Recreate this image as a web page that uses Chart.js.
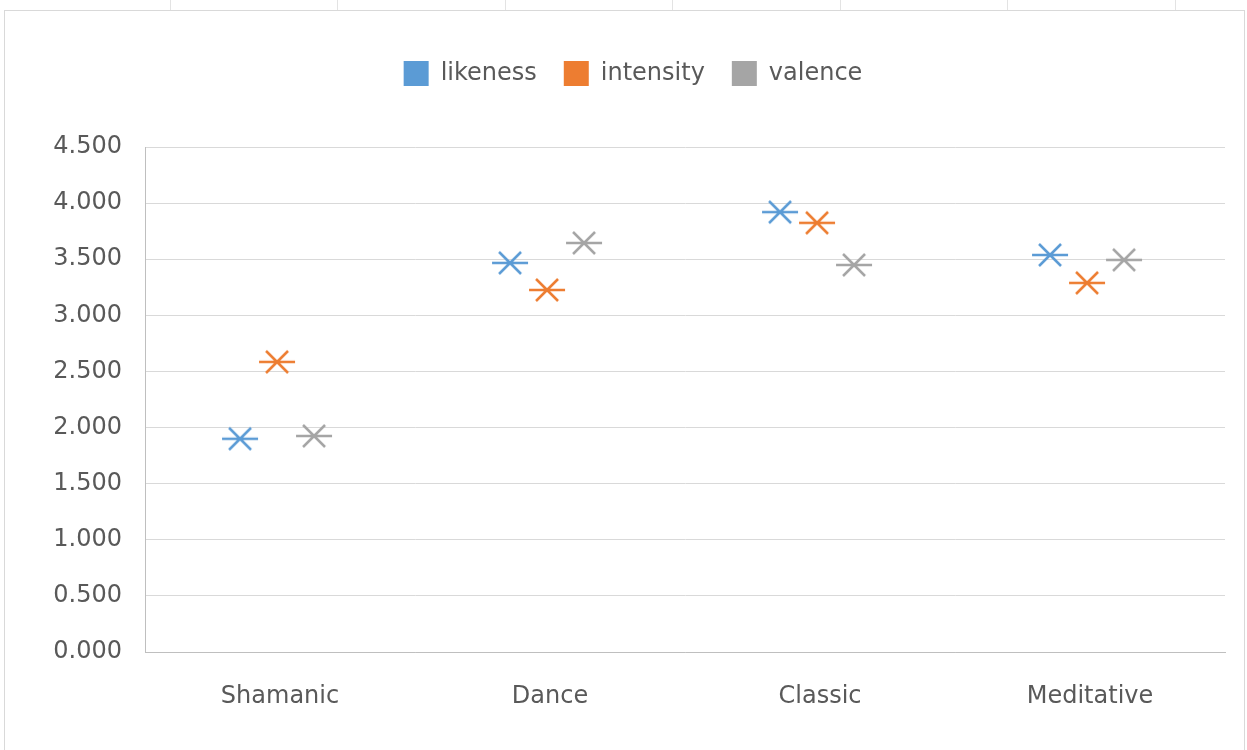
<!DOCTYPE html>
<html>
<head>
<meta charset="utf-8">
<script src="https://cdn.jsdelivr.net/npm/chart.js@4.4.0/dist/chart.umd.min.js"></script>
<style>
  body { margin: 0; background: #fff; }
  .frame { position: absolute; left: 4px; top: 10px; width: 1239px; height: 745px; border: 1px solid #d9d9d9; }
  .wrap { position: absolute; left: 0; top: 0; width: 1238px; height: 739px; }
  .cell { position: absolute; top: 0; width: 1px; height: 10px; background: #e3e3e3; }
</style>
</head>
<body>
<div class="cell" style="left:170px"></div>
<div class="cell" style="left:337px"></div>
<div class="cell" style="left:505px"></div>
<div class="cell" style="left:672px"></div>
<div class="cell" style="left:840px"></div>
<div class="cell" style="left:1007px"></div>
<div class="cell" style="left:1175px"></div>
<div class="frame"><div class="wrap"><canvas id="myChart"></canvas></div></div>
<script>
const categories = ['Shamanic', 'Dance', 'Classic', 'Meditative'];
const likeness  = [1.90, 3.467, 3.92, 3.538];
const intensity = [2.585, 3.226, 3.824, 3.289];
const valence   = [1.925, 3.645, 3.449, 3.494];
const yTicks = [0, 0.5, 1, 1.5, 2, 2.5, 3, 3.5, 4, 4.5];

// position of each series inside its category (clustered like Excel)
const seriesOffset = [-0.148, -0.011, 0.126];
const colors = ['#5B9BD5', '#ED7D31', '#A5A5A5'];

Chart.defaults.font.family = '"DejaVu Sans", "Open Sans", sans-serif';
Chart.defaults.font.size = 24;
Chart.defaults.color = '#595959';

// excel "star" marker: an X with a horizontal bar
function starMarker(color){
    const c = document.createElement('canvas');
    c.width = 40; c.height = 26;
    const g = c.getContext('2d');
    g.strokeStyle = color;
    g.lineWidth = 2.5;
    g.beginPath();
    g.moveTo(2, 13); g.lineTo(38, 13);
    g.moveTo(9, 2); g.lineTo(31, 24);
    g.moveTo(31, 2); g.lineTo(9, 24);
    g.stroke();
    return c;
}

function points(values, k){
    return values.map((v, i) => ({x: i + seriesOffset[k], y: v}));
}

// legend box: fixed height, row centred over the whole frame
const legendPlace = {
    id: 'legendPlace',
    beforeInit(chart){
        const fit = chart.legend.fit;
        chart.legend.fit = function(){
            fit.call(this);
            this.height = 113;
        };
    },
    afterLayout(chart){
        chart.legend.left += 36;
    }
};

const ctx = document.getElementById('myChart').getContext('2d');

new Chart(ctx, {
    type: 'scatter',
    data: {
        datasets: [
            {label: 'likeness', data: points(likeness, 0)},
            {label: 'intensity', data: points(intensity, 1)},
            {label: 'valence', data: points(valence, 2)}
        ].map((d, k) => Object.assign(d, {
            backgroundColor: colors[k],
            borderColor: colors[k],
            borderWidth: 0,
            pointStyle: starMarker(colors[k]),
            showLine: false
        }))
    },
    options: {
        responsive: true,
        maintainAspectRatio: false,
        animation: false,
        layout: { padding: { top: 23, right: 18, bottom: 0, left: 0 } },
        scales: {
            x: {
                type: 'linear',
                min: -0.5,
                max: 3.5,
                afterBuildTicks(scale){
                    scale.ticks = categories.map((c, i) => ({value: i}));
                },
                afterFit(scale){ scale.height = 98; },
                grid: { display: false },
                border: { display: true, color: '#bfbfbf', width: 1 },
                ticks: {
                    padding: 22,
                    callback: (v) => categories[v]
                }
            },
            y: {
                min: 0,
                max: 4.5,
                afterBuildTicks(scale){
                    scale.ticks = yTicks.map(v => ({value: v}));
                },
                afterFit(scale){ scale.width = 140; },
                grid: { color: '#d9d9d9', drawTicks: false },
                border: { display: true, color: '#bfbfbf', width: 1 },
                ticks: {
                    padding: 23,
                    callback: (v) => Number(v).toFixed(3)
                }
            }
        },
        plugins: {
            legend: {
                position: 'top',
                labels: {
                    boxWidth: 25,
                    boxHeight: 25,
                    padding: 27,
                    color: '#595959'
                }
            },
            tooltip: { enabled: false }
        }
    },
    plugins: [legendPlace]
});
</script>
</body>
</html>
